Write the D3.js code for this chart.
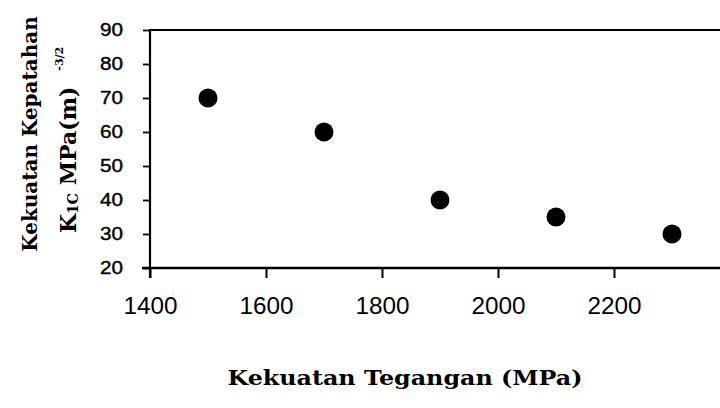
<!DOCTYPE html>
<html>
<head>
<meta charset="utf-8">
<script src="https://cdn.jsdelivr.net/npm/d3@7"></script>
<style>
  html, body { margin: 0; padding: 0; background: #fff; }
  svg { display: block; }
</style>
</head>
<body>
<svg id="chart" width="720" height="408"></svg>
<script>
// Data
const tegangan = [1500, 1700, 1900, 2100, 2300];      // Kekuatan Tegangan (MPa)
const kepatahan = [70, 60, 40, 35, 30];               // K1c MPa(m)^-3/2
const xTickValues = [1400, 1600, 1800, 2000, 2200];
const yTickValues = [20, 30, 40, 50, 60, 70, 80, 90];

const svg = d3.select("#chart");
const W = 720, H = 408;
svg.append("rect").attr("width", W).attr("height", H).attr("fill", "#fff");

const x = d3.scaleLinear().domain([1400, 2400]).range([150, 730]);
const y = d3.scaleLinear().domain([20, 90]).range([268, 30]);

// top border of the plot area
svg.append("line")
  .attr("x1", x(1400)).attr("x2", W)
  .attr("y1", y(90)).attr("y2", y(90))
  .attr("stroke", "#000").attr("stroke-width", 2.2);

// X axis
const xAxis = d3.axisBottom(x).tickValues(xTickValues).tickSize(10).tickPadding(20)
  .tickFormat(d3.format("d"));
const gx = svg.append("g").attr("transform", `translate(0,${y(20)})`).call(xAxis);
gx.select(".domain").remove();
gx.append("line").attr("x1", x(1400) - 8).attr("x2", W).attr("y1", 0).attr("y2", 0)
  .attr("stroke", "#000").attr("stroke-width", 2.6);
gx.selectAll(".tick line").attr("stroke", "#000").attr("stroke-width", 2);
gx.selectAll(".tick text")
  .attr("fill", "#000")
  .attr("textLength", 54).attr("lengthAdjust", "spacingAndGlyphs")
  .style("font-family", "'Liberation Sans', Arial, sans-serif")
  .style("font-size", "23px");

// Y axis
const yAxis = d3.axisLeft(y).tickValues(yTickValues).tickSize(7).tickPadding(20)
  .tickFormat(d3.format("d"));
const gy = svg.append("g").attr("transform", `translate(${x(1400)},0)`).call(yAxis);
gy.select(".domain").remove();
gy.append("line").attr("x1", 0).attr("x2", 0).attr("y1", y(90) - 1).attr("y2", y(20) + 10)
  .attr("stroke", "#000").attr("stroke-width", 2.2);
gy.selectAll(".tick line").attr("stroke", "#000").attr("stroke-width", 1.8);
gy.selectAll(".tick text")
  .attr("fill", "#000")
  .attr("textLength", 23).attr("lengthAdjust", "spacingAndGlyphs")
  .attr("stroke", "#000").attr("stroke-width", 0.4)
  .style("font-family", "'Liberation Sans', Arial, sans-serif")
  .style("font-size", "18px");

// points
svg.append("g").selectAll("circle")
  .data(tegangan.map((t, i) => ({ t, k: kepatahan[i] })))
  .join("circle")
  .attr("cx", d => x(d.t))
  .attr("cy", d => y(d.k))
  .attr("r", 9.5)
  .attr("fill", "#000");

// X title
svg.append("text")
  .attr("x", 405).attr("y", 385)
  .attr("text-anchor", "middle")
  .attr("textLength", 355).attr("lengthAdjust", "spacingAndGlyphs")
  .style("font-family", "'DejaVu Serif', 'Liberation Serif', serif")
  .style("font-weight", "bold")
  .style("font-size", "21px")
  .attr("fill", "#000")
  .text("Kekuatan Tegangan (MPa)");

// Y title line 1
svg.append("text")
  .attr("transform", "translate(37,134) rotate(-90)")
  .attr("text-anchor", "middle")
  .style("font-family", "'DejaVu Serif', 'Liberation Serif', serif")
  .style("font-weight", "bold")
  .style("font-size", "20px")
  .attr("fill", "#000")
  .text("Kekuatan Kepatahan");

// Y title line 2
const t2 = svg.append("text")
  .attr("transform", "translate(76,233) rotate(-90)")
  .attr("text-anchor", "start")
  .style("font-family", "'DejaVu Serif', 'Liberation Serif', serif")
  .style("font-weight", "bold")
  .style("font-size", "22px")
  .attr("fill", "#000");
t2.append("tspan").text("K");
t2.append("tspan").attr("dy", 2).style("font-size", "14px").text("1C");
t2.append("tspan").attr("dy", -2).text(" MPa(m)");
t2.append("tspan").attr("dx", 16).attr("dy", -13).style("font-size", "11px").text("-3/2");
</script>
</body>
</html>
